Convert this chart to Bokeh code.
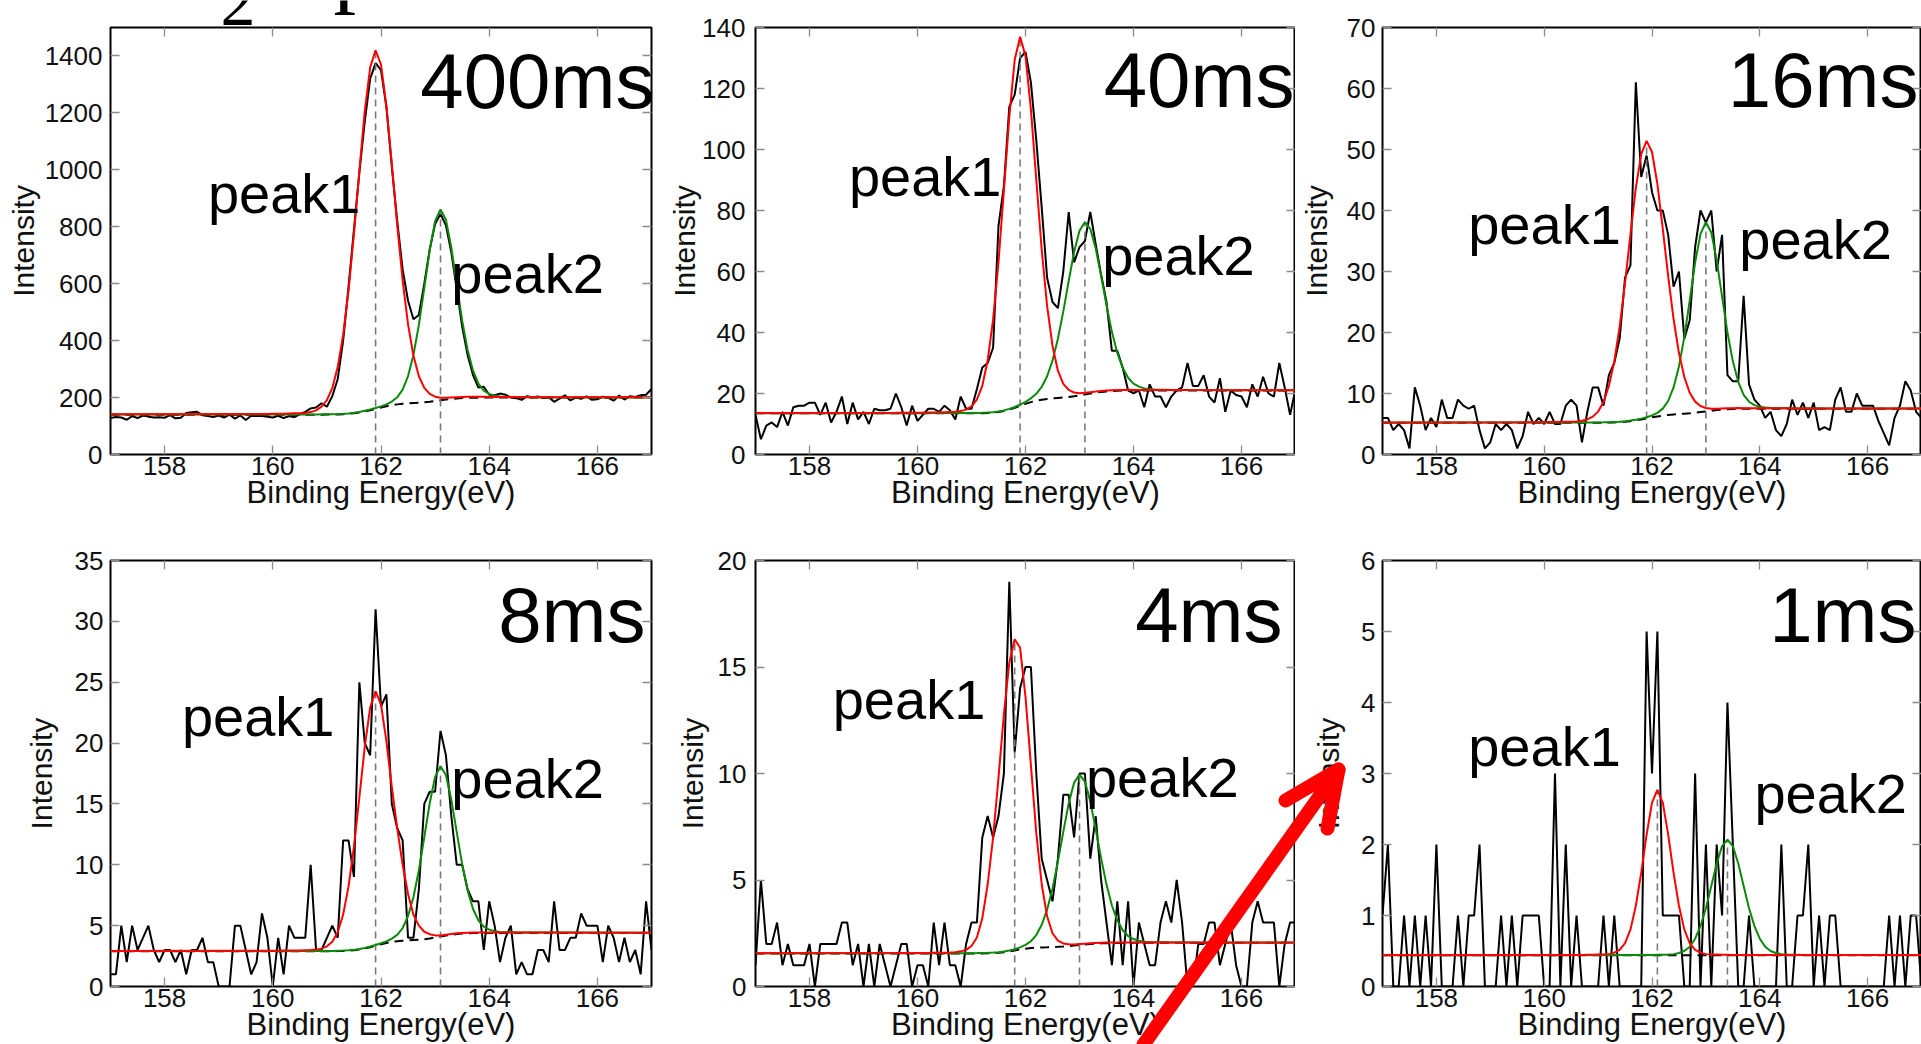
from bokeh.plotting import figure
from bokeh.layouts import column, row
from bokeh.models import FixedTicker, LinearAxis, Label, Range1d
from bokeh.core.properties import value
from bokeh.embed import file_html
from bokeh.resources import INLINE

# ---------------- data ----------------
E = [round(157.0 + 0.1 * i, 1) for i in range(101)]                        # measured energies
E_FIT = [157.0] + [round(159.6 + 0.1 * i, 1) for i in range(55)] + [167.0]  # fit evaluation grid

X_TICKS = [158, 160, 162, 164, 166]
PANEL_NAMES = ["400ms", "40ms", "16ms", "8ms", "4ms", "1ms"]
Y_MAX = [1500, 140, 70, 35, 20, 6]
Y_TICKS = [
    [0, 200, 400, 600, 800, 1000, 1200, 1400],
    [0, 20, 40, 60, 80, 100, 120, 140],
    [0, 10, 20, 30, 40, 50, 60, 70],
    [0, 5, 10, 15, 20, 25, 30, 35],
    [0, 5, 10, 15, 20],
    [0, 1, 2, 3, 4, 5, 6],
]

DATA_400MS = [
    128, 132, 130, 122, 135, 128, 137, 133, 130, 131,
    129, 138, 127, 129, 146, 148, 150, 138, 135, 132,
    137, 130, 140, 126, 137, 121, 136, 135, 135, 133,
    130, 136, 128, 135, 131, 142, 150, 162, 165, 180,
    168, 205, 265, 400, 590, 790, 990, 1170, 1320, 1375,
    1350, 1220, 1010, 820, 650, 540, 475, 490, 600, 720,
    810, 845, 805, 710, 580, 450, 350, 280, 235, 238,
    210, 208, 214, 210, 200, 198, 192, 205, 200, 204,
    198, 201, 185, 196, 208, 190, 200, 196, 204, 192,
    194, 203, 199, 189, 207, 193, 205, 202, 208, 210,
    230]
RED_400MS = [
    141,
    142, 142, 142, 142.5,
    143, 143, 143.5, 144, 144.5, 145, 146, 149, 155, 168,
    191, 234, 307, 419, 576, 775, 996, 1206, 1360, 1420,
    1370, 1224, 1021, 806, 612, 457, 347, 275, 234, 213,
    203, 199, 199, 200, 201, 202, 202.5, 203, 202.5, 202.5,
    202, 202, 202, 202, 202, 202, 201.5, 201.5, 201.5, 201.5,
    201.5,
    201]
GREEN_400MS = [
    140.3,
    140.5, 140.5, 140.5, 140.6,
    140.6, 140.6, 140.7, 140.7, 140.7, 140.8, 140.8, 140.9, 140.9, 141.0,
    141.2, 141.5, 142.0, 142.9, 144.4, 146.5, 149.5, 153.4, 158.1, 163.4,
    169.2, 176.2, 185.9, 200.9, 227.8, 275.5, 349.8, 454.9, 584.4, 716.9,
    819.7, 860.5, 824.8, 726.5, 597.7, 471.0, 367.9, 295.4, 249.4, 224.7,
    212.7, 206.7, 204.0, 202.9, 202.4, 202.0, 201.8, 201.6, 201.5, 201.3,
    201.2,
    200.6]
BG_400MS = [
    140,
    140, 140, 140, 140,
    140, 140, 140, 140, 140, 140, 140, 140, 140, 140,
    140.2, 140.4, 140.8, 141.6, 142.9, 144.9, 147.7, 151.4, 155.7, 160.5,
    165.2, 169.5, 173.2, 176.1, 178.2, 179.7, 181.0, 182.2, 183.7, 185.6,
    187.9, 190.5, 193.0, 195.2, 197.0, 198.3, 199.1, 199.6, 199.8, 199.9,
    200, 200, 200, 200, 200, 200, 200, 200, 200, 200,
    200,
    200]

DATA_40MS = [
    13, 5, 9.5, 10.5, 9, 14, 9.5, 15.5, 16, 16,
    17, 17, 13, 17, 10.5, 14, 19, 10, 17, 11.5,
    14, 10, 15, 14.5, 14.5, 15, 20, 15.5, 9.5, 16,
    11, 13, 15, 15, 14, 16, 14.5, 11.5, 19, 15,
    15, 21.5, 28.5, 30, 35, 75, 88, 114, 118, 130,
    132, 122, 103, 81, 58, 50, 48, 60, 79.5, 63,
    68, 70, 79.5, 69, 59, 50, 34, 34, 28.5, 21,
    20, 21, 15.5, 23, 19, 19, 15.5, 19, 21, 22,
    30, 22.5, 22.5, 26, 19, 17, 25, 14, 21, 19.5,
    19, 15.5, 23, 19, 25.5, 20, 19, 30, 22, 13,
    21.5]
RED_40MS = [
    13.6,
    13.66, 13.67, 13.69, 13.71,
    13.72, 13.74, 13.77, 13.79, 13.82, 13.86, 13.94, 14.02, 14.23, 14.71,
    15.81, 18.0, 22.49, 30.91, 44.23, 63.14, 86.66, 110.72, 129.4, 136.95,
    130.69, 113.17, 90.04, 67.17, 48.71, 35.68, 27.48, 23.16, 21.17, 20.33,
    20.12, 20.22, 20.44, 20.63, 20.83, 20.98, 21.09, 21.14, 21.17, 21.19,
    21.18, 21.17, 21.16, 21.16, 21.15, 21.15, 21.14, 21.14, 21.13, 21.13,
    21.12,
    21.08]
GREEN_40MS = [
    13.55,
    13.55, 13.55, 13.55, 13.56,
    13.56, 13.56, 13.57, 13.57, 13.57, 13.58, 13.58, 13.59, 13.59, 13.60,
    13.61, 13.63, 13.66, 13.75, 13.89, 14.11, 14.46, 14.95, 15.58, 16.35,
    17.27, 18.41, 19.90, 22.15, 25.67, 30.78, 37.93, 46.93, 56.87, 66.42,
    73.39, 76.20, 74.0, 67.57, 58.51, 48.94, 40.22, 33.30, 28.41, 25.16,
    23.25, 22.24, 21.68, 21.40, 21.28, 21.23, 21.20, 21.17, 21.16, 21.15,
    21.14,
    21.06]
BG_40MS = [
    13.5,
    13.5, 13.5, 13.5, 13.5,
    13.5, 13.5, 13.5, 13.5, 13.5, 13.5, 13.5, 13.5, 13.5, 13.5,
    13.51, 13.52, 13.54, 13.61, 13.73, 13.94, 14.26, 14.72, 15.30, 15.95,
    16.59, 17.17, 17.64, 17.97, 18.21, 18.38, 18.53, 18.68, 18.87, 19.12,
    19.39, 19.70, 20.00, 20.27, 20.51, 20.69, 20.82, 20.90, 20.95, 20.98,
    20.99, 21.0, 21.0, 21.0, 21.0, 21.0, 21.0, 21.0, 21.0, 21.0,
    21.0,
    21.0]

DATA_16MS = [
    6, 6, 4, 5, 4, 1, 11, 8, 4, 6,
    4.5, 9, 6, 6, 9, 8, 7.5, 8, 4, 1,
    2, 5, 4, 5, 4, 1, 3, 7, 5, 6,
    5, 7, 5, 5, 8, 9, 8, 2, 7, 11,
    11, 8, 13, 15, 19, 29, 31, 61, 45.5, 49,
    43, 40, 40, 36, 27.5, 30, 19, 22, 34, 40,
    38, 40, 30, 36, 13, 12, 12, 26, 11.5, 9,
    8, 6, 7, 4, 3, 5, 9, 6.5, 8.5, 6,
    8.5, 4, 4.5, 4, 9, 11, 7, 7, 10, 8,
    8, 8, 5.5, 3.5, 1.5, 6, 8, 12, 10.5, 7,
    6]
RED_16MS = [
    5.25,
    5.27, 5.28, 5.28, 5.29,
    5.30, 5.31, 5.32, 5.34, 5.36, 5.38, 5.43, 5.52, 5.75, 6.2,
    7.03, 8.58, 11.23, 15.26, 20.95, 28.12, 36.07, 43.7, 49.25, 51.42,
    49.59, 44.34, 36.97, 29.23, 22.21, 16.63, 12.69, 10.13, 8.67, 7.96,
    7.62, 7.5, 7.51, 7.55, 7.58, 7.60, 7.61, 7.60, 7.60, 7.59,
    7.58, 7.58, 7.57, 7.57, 7.57, 7.57, 7.56, 7.56, 7.56, 7.56,
    7.56,
    7.55]
GREEN_16MS = [
    5.22,
    5.23, 5.23, 5.23, 5.23,
    5.23, 5.23, 5.23, 5.23, 5.23, 5.23, 5.24, 5.24, 5.25, 5.25,
    5.26, 5.27, 5.29, 5.33, 5.37, 5.45, 5.56, 5.71, 5.88, 6.11,
    6.40, 6.83, 7.52, 8.77, 10.99, 14.44, 19.29, 25.26, 31.45, 36.16,
    38.07, 36.38, 31.88, 25.87, 20.02, 15.27, 11.91, 9.78, 8.65, 8.09,
    7.81, 7.69, 7.63, 7.61, 7.59, 7.58, 7.57, 7.56, 7.56, 7.55,
    7.55,
    7.53]
BG_16MS = [
    5.2,
    5.2, 5.2, 5.2, 5.2,
    5.2, 5.2, 5.2, 5.2, 5.2, 5.2, 5.2, 5.2, 5.2, 5.2,
    5.21, 5.21, 5.23, 5.26, 5.30, 5.37, 5.47, 5.60, 5.75, 5.92,
    6.09, 6.24, 6.37, 6.48, 6.56, 6.63, 6.69, 6.76, 6.85, 6.96,
    7.07, 7.18, 7.28, 7.37, 7.42, 7.46, 7.48, 7.49, 7.5, 7.5,
    7.5, 7.5, 7.5, 7.5, 7.5, 7.5, 7.5, 7.5, 7.5, 7.5,
    7.5,
    7.5]

DATA_8MS = [
    1, 1, 5, 2, 5, 3, 4, 5, 3, 2,
    3, 3, 2, 3, 1, 3, 3, 4, 2, 2,
    0, 0, 0, 5, 5, 3, 1, 2, 6, 4,
    0, 4, 1, 5, 4, 4, 4, 10, 3, 3,
    4, 5, 4, 12, 12, 9, 25, 20, 19, 31,
    23, 24, 15, 13, 12, 4, 4, 8, 15, 16,
    16, 21, 19, 14, 10, 10, 8, 7, 7, 3,
    7, 5, 2, 4, 5, 1, 2, 1, 1, 3,
    3, 2, 7, 3, 3, 4, 4, 6, 5, 5,
    5, 2, 5, 4, 2, 4, 2, 3, 1, 7,
    3]
RED_8MS = [
    2.92,
    2.93, 2.93, 2.93, 2.94,
    2.94, 2.94, 2.95, 2.95, 2.96, 2.96, 2.98, 2.99, 3.03, 3.11,
    3.30, 3.67, 4.46, 5.91, 8.21, 11.49, 15.54, 19.69, 22.94, 24.25,
    23.18, 20.14, 16.4, 13.0, 10.0, 7.6, 5.9, 5.0, 4.5, 4.3,
    4.2, 4.2, 4.26, 4.32, 4.37, 4.40, 4.42, 4.43, 4.44, 4.44,
    4.43, 4.43, 4.43, 4.43, 4.43, 4.43, 4.43, 4.43, 4.43, 4.43,
    4.43,
    4.42]
GREEN_8MS = [
    2.91,
    2.91, 2.91, 2.91, 2.91,
    2.91, 2.91, 2.91, 2.91, 2.91, 2.92, 2.92, 2.92, 2.92, 2.92,
    2.92, 2.92, 2.94, 2.95, 2.97, 3.01, 3.08, 3.16, 3.28, 3.41,
    3.55, 3.71, 3.93, 4.24, 4.80, 5.79, 7.35, 9.55, 12.26, 15.05,
    17.22, 18.10, 17.38, 15.35, 12.68, 10.05, 7.90, 6.39, 5.44, 4.92,
    4.67, 4.54, 4.48, 4.46, 4.45, 4.44, 4.44, 4.43, 4.43, 4.43,
    4.43,
    4.41]
BG_8MS = [
    2.9,
    2.9, 2.9, 2.9, 2.9,
    2.9, 2.9, 2.9, 2.9, 2.9, 2.9, 2.9, 2.9, 2.9, 2.9,
    2.90, 2.90, 2.91, 2.92, 2.94, 2.98, 3.04, 3.12, 3.23, 3.35,
    3.47, 3.57, 3.66, 3.72, 3.76, 3.79, 3.82, 3.85, 3.89, 3.95,
    4.02, 4.10, 4.18, 4.25, 4.31, 4.35, 4.37, 4.39, 4.40, 4.40,
    4.4, 4.4, 4.4, 4.4, 4.4, 4.4, 4.4, 4.4, 4.4, 4.4,
    4.4,
    4.4]

DATA_4MS = [
    1, 5, 2, 2, 3, 1, 2, 1, 1, 1,
    2, 0, 2, 2, 2, 2, 3, 3, 1, 2,
    0, 2, 0, 2, 1, 0, 1, 2, 2, 0,
    1, 1, 0, 3, 1, 3, 1, 1, 0, 2,
    3, 3, 7, 8, 7, 8, 10, 19, 11, 14,
    15, 15, 10, 6, 5, 4, 6, 9, 9, 7,
    10, 10, 6, 8, 5, 3, 1, 4, 1, 4,
    0, 3, 2, 1, 1, 3, 4, 3, 5, 3,
    0, 0, 2, 2, 3, 3, 1, 2, 3, 1,
    0, 0, 3, 4, 3, 3, 3, 0, 2, 3,
    3]
RED_4MS = [
    1.56,
    1.567, 1.568, 1.569, 1.570,
    1.572, 1.574, 1.578, 1.581, 1.584, 1.589, 1.594, 1.604, 1.65, 1.72,
    1.9, 2.3, 3.2, 4.8, 7.0, 9.8, 12.8, 15.2, 16.3, 15.9,
    13.6, 10.4, 7.2, 4.8, 3.3, 2.5, 2.15, 2.02, 1.98, 1.97,
    1.99, 2.01, 2.03, 2.04, 2.05, 2.06, 2.07, 2.07, 2.07, 2.07,
    2.07, 2.07, 2.07, 2.07, 2.07, 2.07, 2.07, 2.07, 2.07, 2.07,
    2.065,
    2.06]
GREEN_4MS = [
    1.556,
    1.557, 1.557, 1.557, 1.557,
    1.558, 1.558, 1.559, 1.559, 1.560, 1.561, 1.562, 1.563, 1.564, 1.565,
    1.566, 1.568, 1.573, 1.579, 1.591, 1.613, 1.645, 1.690, 1.751, 1.835,
    1.957, 2.125, 2.414, 2.896, 3.604, 4.603, 5.864, 7.259, 8.598, 9.570,
    9.945, 9.619, 8.691, 7.39, 6.025, 4.785, 3.802, 3.106, 2.638, 2.37,
    2.23, 2.146, 2.106, 2.09, 2.082, 2.078, 2.074, 2.07, 2.068, 2.066,
    2.064,
    2.058]
BG_4MS = [
    1.55,
    1.55, 1.55, 1.55, 1.55,
    1.55, 1.55, 1.55, 1.55, 1.55, 1.55, 1.55, 1.55, 1.55, 1.55,
    1.55, 1.55, 1.553, 1.557, 1.567, 1.585, 1.613, 1.650, 1.695, 1.739,
    1.777, 1.805, 1.824, 1.836, 1.844, 1.853, 1.864, 1.879, 1.898, 1.920,
    1.945, 1.969, 1.991, 2.010, 2.025, 2.035, 2.042, 2.046, 2.048, 2.05,
    2.05, 2.05, 2.05, 2.05, 2.05, 2.05, 2.05, 2.05, 2.05, 2.05,
    2.05,
    2.05]

DATA_1MS = [
    1, 2, 0, 0, 1, 0, 1, 0, 1, 0,
    2, 0, 0, 0, 1, 0, 1, 1, 2, 0,
    0, 0, 1, 0, 1, 0, 1, 1, 1, 1,
    0, 0, 3, 0, 2, 0, 1, 0, 0, 0,
    0, 1, 0, 1, 0, 0, 0, 0, 0, 5,
    3, 5, 1, 1, 1, 1, 0, 0, 3, 0,
    2, 0, 2, 1, 4, 2, 0, 0, 1, 0,
    0, 0, 0, 0, 2, 0, 0, 1, 1, 2,
    0, 1, 0, 1, 1, 0, 0, 0, 0, 0,
    0, 0, 0, 0, 1, 0, 1, 0, 1, 1,
    0]
RED_1MS = [
    0.442,
    0.442, 0.443, 0.443, 0.443,
    0.443, 0.443, 0.443, 0.444, 0.444, 0.444, 0.445, 0.445, 0.446, 0.447,
    0.449, 0.451, 0.456, 0.477, 0.517, 0.612, 0.801, 1.137, 1.605, 2.14,
    2.59, 2.77, 2.59, 2.14, 1.605, 1.137, 0.801, 0.612, 0.517, 0.477,
    0.456, 0.451, 0.449, 0.447, 0.446, 0.445, 0.445, 0.444, 0.444, 0.444,
    0.443, 0.443, 0.443, 0.443, 0.443, 0.443, 0.443, 0.443, 0.443, 0.443,
    0.443,
    0.442]
GREEN_1MS = [
    0.441,
    0.441, 0.441, 0.441, 0.441,
    0.441, 0.441, 0.441, 0.442, 0.442, 0.442, 0.442, 0.442, 0.442, 0.442,
    0.442, 0.442, 0.443, 0.443, 0.443, 0.443, 0.443, 0.444, 0.444, 0.444,
    0.445, 0.446, 0.447, 0.450, 0.456, 0.471, 0.500, 0.561, 0.673, 0.851,
    1.103, 1.415, 1.733, 1.977, 2.07, 1.977, 1.733, 1.415, 1.103, 0.851,
    0.673, 0.561, 0.500, 0.471, 0.456, 0.450, 0.447, 0.446, 0.445, 0.445,
    0.444,
    0.442]
BG_1MS_X = [157.0, 167.0]
BG_1MS = [0.44, 0.44]

# peak centres and fitted peak maxima (vertical guide lines)
PEAK_CENTERS = [[161.9, 163.1], [161.9, 163.1], [161.9, 163.0],
                [161.9, 163.1], [161.8, 163.0], [162.1, 163.4]]
PEAK_TOPS = [[1420, 860], [137, 76.2], [51.4, 38.1],
             [24.2, 18.1], [16.3, 9.9], [2.77, 2.07]]

DATA = [DATA_400MS, DATA_40MS, DATA_16MS, DATA_8MS, DATA_4MS, DATA_1MS]
RED = [RED_400MS, RED_40MS, RED_16MS, RED_8MS, RED_4MS, RED_1MS]
GREEN = [GREEN_400MS, GREEN_40MS, GREEN_16MS, GREEN_8MS, GREEN_4MS, GREEN_1MS]
BG = [BG_400MS, BG_40MS, BG_16MS, BG_8MS, BG_4MS, BG_1MS]
BG_X = [E_FIT, E_FIT, E_FIT, E_FIT, E_FIT, BG_1MS_X]

# ---------------- layout / annotation positions ----------------
# (width, height, border left, right, top, bottom, tick-label standoff, y-label standoff)
LAYOUT = [
    (655, 514, 110, 4, 27, 60, 8, 2),
    (640, 514, 100, 0, 27, 60, 10, -2),
    (626, 514, 87, 0, 27, 60, 7, 11),
    (655, 530, 110, 4, 46, 57, 7, 14),
    (640, 530, 100, 0, 46, 57, 9, 6),
    (626, 530, 87, 0, 46, 57, 7, 13),
]
NAME_POS = [(167.055, 1312.8), (166.98, 122.85), (166.944, 61.43),
            (166.889, 30.55), (166.759, 17.46), (166.907, 5.237)]
PEAK1_POS = [(158.80, 917.2), (158.73, 91.18), (158.59, 37.72),
             (158.32, 22.22), (158.43, 13.49), (158.59, 3.374)]
PEAK2_POS = [(163.30, 636.2), (163.42, 65.28), (163.62, 35.26),
             (163.30, 17.06), (163.12, 9.794), (163.90, 2.713)]

# red pointer arrow (pixel coordinates of a transparent overlay placed at left=1133, top=756)
ARROW_SHAFT_X = [10, 205]
ARROW_SHAFT_Y = [288, 13]
ARROW_HEAD_X = [152, 205, 194]
ARROW_HEAD_Y = [44, 13, 72]
# heading fragment cut by the top edge (overlay at left=200, top=0)
HEAD_TEXT = ["2", "p"]
HEAD_TEXT_X = [20, 133]
HEAD_TEXT_Y = [1.4, -34.9]
HEAD_TEXT_SIZE = ["70px", "90px"]

FONT = "Liberation Sans"
RED_ARROW = "#ff0000"


def style_axis(ax, ticks, labels, standoff=0, label_standoff=0, label_size="30px"):
    ax.ticker = FixedTicker(ticks=ticks)
    ax.major_tick_in = 9
    ax.major_tick_out = 0
    ax.minor_tick_line_color = None
    ax.major_tick_line_color = "#8c8c8c"
    ax.major_tick_line_width = 1.3
    ax.axis_line_color = None
    if labels:
        ax.major_label_text_font = FONT
        ax.major_label_text_font_size = "26px"
        ax.major_label_text_color = "#111111"
        ax.major_label_standoff = standoff
        ax.axis_label_text_font = FONT
        ax.axis_label_text_font_size = label_size
        ax.axis_label_text_font_style = "normal"
        ax.axis_label_text_color = "#111111"
        ax.axis_label_standoff = label_standoff
    else:
        ax.major_label_text_font_size = "0px"
        ax.major_label_text_color = None
        ax.major_label_standoff = 0


def text(p, x, y, s, size, align="left"):
    p.add_layout(Label(x=x, y=y, text=s, text_font=FONT, text_font_size=size,
                       text_align=align, text_baseline="middle", text_color="black"))


def make_panel(i):
    w, h, bl, br, bt, bb, ts, ys = LAYOUT[i]
    p = figure(width=w, height=h, x_range=Range1d(157, 167), y_range=Range1d(0, Y_MAX[i]),
               output_backend="svg", toolbar_location=None,
               min_border_left=bl, min_border_right=br, min_border_top=bt, min_border_bottom=bb,
               x_axis_label="Binding Energy(eV)", y_axis_label="Intensity",
               background_fill_color="white", border_fill_color="white")
    p.grid.visible = False
    p.outline_line_color = "black"
    p.outline_line_width = 2
    p.outline_line_alpha = 1.0
    style_axis(p.below[0], X_TICKS, True, 2, -3, "31px")
    style_axis(p.left[0], Y_TICKS[i], True, ts, ys, "30px")
    top_ax = LinearAxis()
    p.add_layout(top_ax, "above")
    style_axis(top_ax, X_TICKS, False)
    right_ax = LinearAxis()
    p.add_layout(right_ax, "right")
    style_axis(right_ax, Y_TICKS[i], False)

    p.line(E, DATA[i], line_color="black", line_width=2)
    p.line(BG_X[i], BG[i], line_color="black", line_width=2, line_dash="9 6")
    c = PEAK_CENTERS[i]
    p.segment(x0=c, y0=[0, 0], x1=c, y1=PEAK_TOPS[i],
              line_color="#7a7a7a", line_width=1.6, line_dash="7 5")
    p.line(E_FIT, GREEN[i], line_color="#0a8a0a", line_width=2)
    p.line(E_FIT, RED[i], line_color="#ff0000", line_width=2)

    text(p, *NAME_POS[i], PANEL_NAMES[i], "78px", align="right")
    text(p, *PEAK1_POS[i], "peak1", "56px")
    text(p, *PEAK2_POS[i], "peak2", "56px")
    return p


def overlay(width, height, left, top):
    ov = figure(width=width, height=height, x_range=Range1d(0, width), y_range=Range1d(height, 0),
                x_axis_location=None, y_axis_location=None, min_border=0,
                output_backend="svg", toolbar_location=None,
                background_fill_alpha=0, border_fill_alpha=0, outline_line_color=None,
                styles={"position": "absolute", "left": f"{left}px", "top": f"{top}px",
                        "z-index": "10", "pointer-events": "none"})
    ov.grid.visible = False
    return ov


panels = [make_panel(i) for i in range(6)]

arrow_ov = overlay(215, 288, 1133, 756)
arrow_ov.line(ARROW_SHAFT_X, ARROW_SHAFT_Y, line_color=RED_ARROW, line_width=14, line_cap="round")
arrow_ov.line(ARROW_HEAD_X, ARROW_HEAD_Y, line_color=RED_ARROW, line_width=14,
              line_cap="round", line_join="round")

head_ov = overlay(200, 27, 200, 0)
for s, x, y, size in zip(HEAD_TEXT, HEAD_TEXT_X, HEAD_TEXT_Y, HEAD_TEXT_SIZE):
    head_ov.text(x=[x], y=[y], text=[s], text_font=value("Liberation Serif"),
                 text_font_size=size, text_baseline="middle", text_align="left",
                 text_color="black")

layout = column(row(panels[0], panels[1], panels[2]),
                row(panels[3], panels[4], panels[5]),
                arrow_ov, head_ov)

open("out.html", "w").write(file_html(layout, INLINE, title="XPS peaks"))
